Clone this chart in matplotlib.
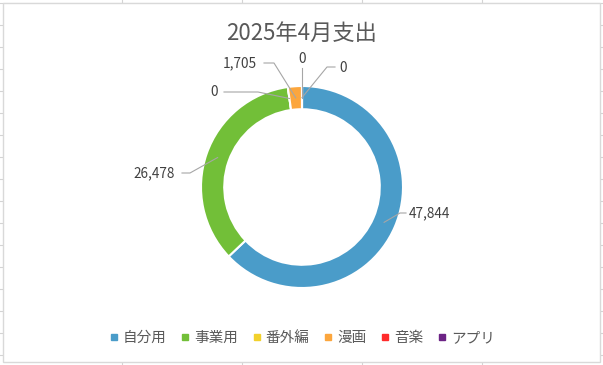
import matplotlib
matplotlib.use("Agg")
import matplotlib.pyplot as plt
import numpy as np
from matplotlib.lines import Line2D
from matplotlib.patches import Rectangle

plt.rcParams['font.family'] = ['Noto Sans CJK JP', 'DejaVu Sans']

# data
categories = ['自分用', '事業用', '番外編', '漫画', '音楽', 'アプリ']
values = [47844, 26478, 0, 1705, 0, 0]
colors = ['#4a9cc9', '#72bf38', '#f2d12c', '#fca63d', '#ff2b2b', '#6c2385']
title = '2025年4月支出'

W, H = 603, 365
CX, CY, R = 302, 187, 101   # pie centre / radius in pixels

fig = plt.figure(figsize=(W / 100, H / 100), dpi=100)
fig.patch.set_facecolor('white')

# sheet grid peeking out around the chart area
grid = '#d4d4d4'
for gx in [122, 242, 362, 482]:
    fig.add_artist(Line2D([gx / W, gx / W], [0, 1], color=grid, lw=0.8, zorder=0))
for gy in range(3, H, 22):
    fig.add_artist(Line2D([0, 1], [1 - gy / H, 1 - gy / H], color=grid, lw=0.8, zorder=0))
fig.add_artist(Rectangle((3 / W, 1 - 362 / H), 597 / W, 359 / H, transform=fig.transFigure,
                         facecolor='white', edgecolor='#d9d9d9', lw=1.0, zorder=1))

ax = fig.add_axes([0, 0, 1, 1], zorder=2)
ax.set_facecolor('none')

wedges, _ = ax.pie(values, colors=colors, startangle=90, counterclock=False, radius=1.0,
                   wedgeprops=dict(width=0.23, edgecolor='white', linewidth=1.5))
ax.set_xlim(-CX / R, (W - CX) / R)
ax.set_ylim(-(H - CY) / R, CY / R)
ax.axis('off')


def px(x, y):
    return ((x - CX) / R, (CY - y) / R)


# label layout in pixels: text centre, line end near text, elbow
label_layout = [
    ((429, 213), (406, 213), (400, 213)),
    ((154, 173), (182, 173), (190, 173)),
    ((214, 92), (224, 92), (258, 92)),
    ((240, 63), (264, 63), (274, 63)),
    ((302, 59), (302, 68), (302, 68)),
    ((343, 68), (335, 67), (327, 67)),
]

for val, w, (tpos, lend, elbow) in zip(values, wedges, label_layout):
    th = np.deg2rad((w.theta1 + w.theta2) / 2)
    rx, ry = 0.885 * np.cos(th), 0.885 * np.sin(th)
    p1, p2 = px(*lend), px(*elbow)
    ax.plot([p1[0], p2[0], rx], [p1[1], p2[1], ry], color='#a6a6a6', lw=0.8, zorder=5)
    ax.text(*px(*tpos), f'{val:,}', ha='center', va='center', fontsize=9.8, color='#404040')

fig.text(CX / W, 1 - 33 / H, title, ha='center', va='center', fontsize=16, color='#595959')

handles = [Line2D([], [], marker='s', ls='', markersize=4.5, color=c) for c in colors]
fig.legend(handles, categories, loc='center', bbox_to_anchor=(CX / W, 1 - 338 / H), ncol=6,
           frameon=False, fontsize=10.5, handlelength=0.6, handletextpad=0.3, columnspacing=1.0,
           labelcolor='#595959')

fig.savefig('out.png', dpi=100)
